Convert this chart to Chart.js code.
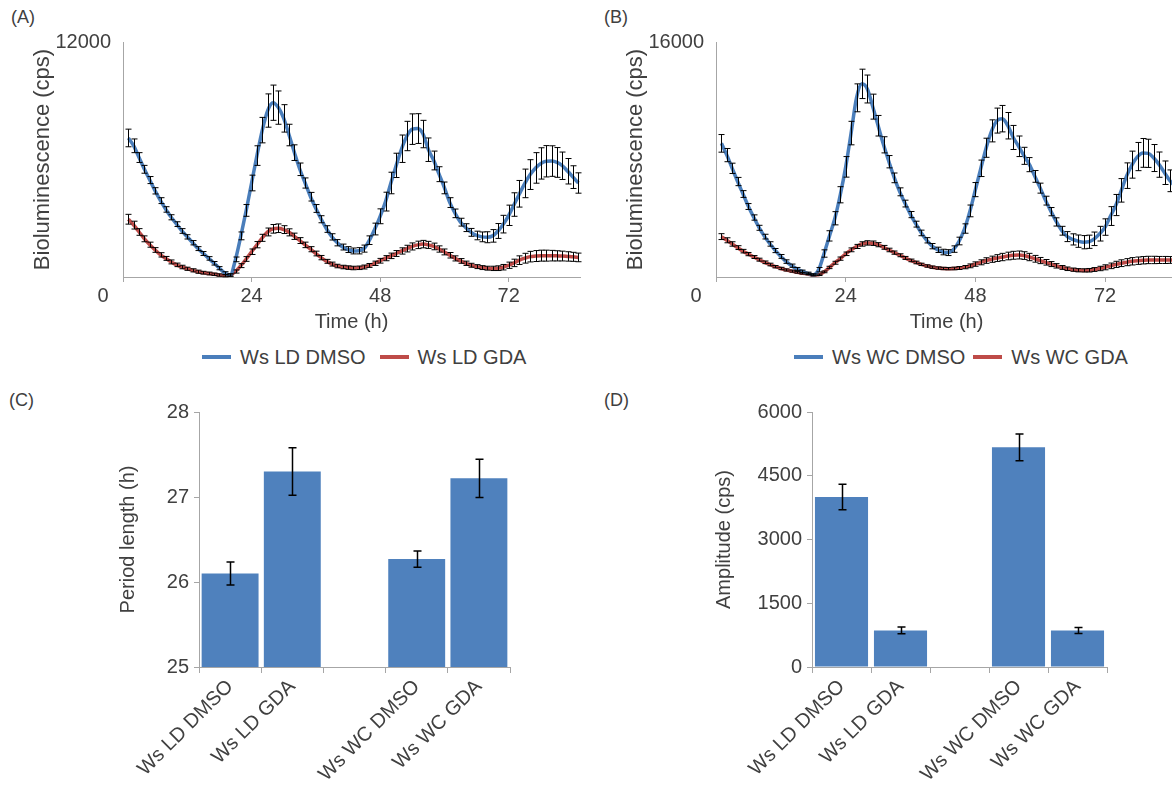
<!DOCTYPE html>
<html>
<head>
<meta charset="utf-8">
<title>Bioluminescence, period and amplitude</title>
<script src="https://cdn.jsdelivr.net/npm/chart.js@4.4.1/dist/chart.umd.min.js"></script>
<style>
  html, body { margin: 0; padding: 0; background: #fff; }
  body {
    width: 1172px; height: 789px; overflow: hidden; position: relative;
    font-family: "Liberation Sans", Arial, sans-serif; color: #404040;
  }
  .panel-label { position: absolute; font-size: 18px; line-height: 18px; }
  .box { position: absolute; }
  .legend { position: absolute; display: flex; align-items: center; font-size: 20px; line-height: 24px; white-space: nowrap; }
  .legend .item { display: flex; align-items: center; }
  .legend .swatch { display: inline-block; width: 29px; height: 4px; margin-right: 9px; }
</style>
</head>
<body>

<div class="panel-label" style="left:11px;top:8px">(A)</div>
<div class="panel-label" style="left:604px;top:8px">(B)</div>
<div class="panel-label" style="left:9px;top:391px">(C)</div>
<div class="panel-label" style="left:604px;top:391px">(D)</div>

<div class="box" style="left:0;top:0"><canvas id="chartA" width="590" height="336"></canvas></div>
<div class="box" style="left:590px;top:0"><canvas id="chartB" width="600" height="336"></canvas></div>
<div class="box" style="left:0;top:380px"><canvas id="chartC" width="590" height="409"></canvas></div>
<div class="box" style="left:590px;top:380px"><canvas id="chartD" width="590" height="409"></canvas></div>

<div class="legend" id="legendA" style="left:202px;top:345px"></div>
<div class="legend" id="legendB" style="left:794px;top:345px"></div>

<script>
// ===== Data =====
const hours = [1, 2, 3, 4, 5, 6, 7, 8, 9, 10, 11, 12, 13, 14, 15, 16, 17, 18, 19, 20,
  21, 22, 23, 24, 25, 26, 27, 28, 29, 30, 31, 32, 33, 34, 35, 36, 37, 38, 39, 40,
  41, 42, 43, 44, 45, 46, 47, 48, 49, 50, 51, 52, 53, 54, 55, 56, 57, 58, 59, 60,
  61, 62, 63, 64, 65, 66, 67, 68, 69, 70, 71, 72, 73, 74, 75, 76, 77, 78, 79, 80,
  81, 82, 83, 84, 85];

// (A) Ws LD
const ldDmso = [7100, 6700, 6100, 5500, 4950, 4400, 3900, 3450, 3050, 2700,
  2350, 2050, 1750, 1450, 1200, 950, 700, 450, 200, 100,
  900, 2100, 3400, 4800, 6200, 7500, 8500, 8900, 8650, 8100,
  7250, 6350, 5500, 4800, 4100, 3500, 2950, 2450, 2050, 1750,
  1530, 1400, 1330, 1340, 1450, 1880, 2450, 3100, 3850, 4800,
  5700, 6550, 7200, 7550, 7580, 7300, 6500, 5950, 5250, 4550,
  3800, 3250, 2800, 2520, 2280, 2120, 2050, 2030, 2100, 2350,
  2700, 3150, 3700, 4250, 4780, 5230, 5570, 5800, 5910, 5920,
  5850, 5680, 5400, 5100, 4800];
const ldDmsoErr = [450, 350, 250, 200, 180, 160, 150, 140, 130, 120,
  120, 110, 110, 100, 100, 90, 90, 80, 70, 60,
  120, 200, 300, 400, 500, 650, 850, 900, 850, 700,
  550, 400, 320, 260, 220, 200, 180, 170, 160, 160,
  150, 150, 150, 160, 180, 220, 300, 380, 480, 550,
  620, 700, 750, 780, 760, 700, 600, 480, 380, 300,
  250, 220, 200, 200, 200, 220, 250, 280, 320, 380,
  450, 520, 600, 680, 730, 760, 780, 800, 800, 780,
  760, 700, 650, 580, 520];
const ldGda = [2950, 2650, 2300, 1950, 1650, 1380, 1130, 950, 770, 620,
  510, 420, 340, 270, 220, 180, 140, 100, 60, 100,
  280, 580, 920, 1290, 1650, 2000, 2300, 2460, 2490, 2420,
  2280, 2080, 1860, 1640, 1420, 1200, 990, 800, 660, 560,
  510, 480, 460, 470, 510, 590, 700, 830, 960, 1080,
  1200, 1330, 1450, 1560, 1640, 1680, 1640, 1560, 1430, 1280,
  1110, 950, 820, 700, 600, 530, 480, 450, 440, 450,
  500, 600, 720, 860, 960, 1040, 1070, 1090, 1090, 1090,
  1080, 1070, 1050, 1030, 1000];
const ldGdaErr = [250, 200, 170, 150, 130, 120, 110, 100, 100, 90,
  90, 80, 80, 80, 70, 70, 60, 60, 50, 60,
  80, 100, 120, 140, 160, 180, 200, 220, 220, 200,
  180, 160, 150, 140, 130, 120, 110, 100, 100, 90,
  90, 90, 90, 90, 100, 100, 110, 120, 130, 140,
  150, 160, 170, 180, 190, 190, 180, 170, 160, 150,
  140, 130, 120, 110, 100, 100, 100, 100, 110, 120,
  140, 160, 190, 220, 250, 270, 280, 280, 280, 270,
  260, 250, 240, 230, 220];

// (B) Ws WC
const wcDmso = [9100, 8300, 7400, 6500, 5650, 4800, 4050, 3350, 2750, 2250,
  1800, 1400, 1050, 770, 550, 380, 250, 150, 500, 1600,
  2800, 4000, 5600, 7500, 9800, 12200, 13150, 12800, 11600, 10300,
  9000, 7850, 6750, 5800, 5000, 4250, 3600, 3000, 2500, 2100,
  1850, 1700, 1660, 1900, 2450, 3300, 4500, 5950, 7400, 8800,
  9950, 10650, 10780, 10300, 9500, 8900, 8250, 7650, 6850, 6050,
  5200, 4450, 3750, 3150, 2750, 2560, 2440, 2370, 2400, 2600,
  2950, 3400, 4150, 4900, 5900, 6900, 7650, 8200, 8450, 8420,
  8100, 7650, 7100, 6550, 6150];
const wcDmsoErr = [600, 450, 350, 280, 230, 200, 180, 170, 160, 150,
  140, 130, 120, 110, 100, 90, 80, 70, 150, 250,
  350, 450, 550, 700, 800, 950, 1000, 950, 850, 700,
  550, 420, 330, 270, 230, 210, 200, 190, 180, 180,
  180, 190, 200, 220, 260, 320, 400, 480, 560, 650,
  750, 850, 900, 900, 820, 700, 580, 480, 400, 340,
  300, 280, 280, 300, 340, 380, 420, 450, 450, 460,
  500, 560, 640, 720, 800, 870, 920, 960, 980, 960,
  920, 860, 800, 740, 700];
const wcGda = [2750, 2500, 2250, 2000, 1760, 1560, 1360, 1180, 1000, 850,
  700, 580, 480, 400, 320, 260, 200, 140, 150, 350,
  650, 970, 1250, 1580, 1850, 2080, 2250, 2320, 2300, 2200,
  2020, 1840, 1660, 1480, 1300, 1130, 990, 860, 750, 670,
  610, 580, 570, 580, 610, 670, 760, 880, 1000, 1120,
  1210, 1290, 1360, 1430, 1480, 1500, 1460, 1360, 1240, 1120,
  1000, 880, 760, 650, 560, 500, 460, 450, 460, 510,
  580, 660, 760, 860, 940, 1010, 1070, 1110, 1140, 1160,
  1160, 1160, 1160, 1160, 1160];
const wcGdaErr = [200, 170, 150, 130, 120, 110, 100, 100, 90, 90,
  80, 80, 70, 70, 60, 60, 50, 50, 50, 60,
  80, 100, 110, 120, 130, 140, 150, 150, 150, 140,
  130, 120, 110, 100, 100, 90, 90, 80, 80, 80,
  80, 80, 80, 90, 100, 110, 130, 150, 170, 190,
  210, 230, 250, 260, 270, 270, 260, 250, 230, 210,
  190, 170, 150, 130, 120, 110, 110, 110, 120, 130,
  150, 170, 190, 210, 230, 240, 250, 250, 250, 250,
  250, 240, 240, 230, 230];

const timeTicks = [0, 24, 48, 72];

// (C) and (D)
const groups = ["Ws LD DMSO", "Ws LD GDA", "", "Ws WC DMSO", "Ws WC GDA"];
const periodLength = [26.10, 27.30, null, 26.27, 27.22];
const periodErr = [0.135, 0.28, null, 0.095, 0.225];
const periodTicks = [25, 26, 27, 28];
const amplitude = [4000, 860, null, 5170, 860];
const amplitudeErr = [300, 80, null, 315, 70];
const amplitudeTicks = [0, 1500, 3000, 4500, 6000];

const BLUE = "#4A7EBB";
const RED = "#BE4B48";
const BAR = "#4F81BD";
const AXIS = "#a6a6a6";
const TEXT = "#404040";

Chart.defaults.font.family = "'Liberation Sans', Arial, sans-serif";
Chart.defaults.color = TEXT;
Chart.defaults.animation = false;

// ===== Error bars plugin =====
const errorBars = {
  id: "errorBars",
  afterDatasetsDraw(chart, args, opts) {
    const ctx = chart.ctx;
    const yScale = chart.scales.y;
    ctx.save();
    ctx.strokeStyle = opts.color || "#000";
    ctx.lineWidth = opts.width || 1;
    chart.data.datasets.forEach((ds, di) => {
      if (!ds.errors) return;
      const meta = chart.getDatasetMeta(di);
      meta.data.forEach((el, i) => {
        const raw = ds.data[i];
        const v = raw !== null && typeof raw === "object" ? raw.y : raw;
        const e = ds.errors[i];
        if (v == null || e == null) return;
        const x = Math.round(el.x) + 0.5;
        const top = yScale.getPixelForValue(v + e);
        const bot = yScale.getPixelForValue(v - e);
        const c = opts.cap || 3;
        ctx.beginPath();
        ctx.moveTo(x, top); ctx.lineTo(x, bot);
        ctx.moveTo(x - c, top); ctx.lineTo(x + c, top);
        ctx.moveTo(x - c, bot); ctx.lineTo(x + c, bot);
        ctx.stroke();
      });
    });
    ctx.restore();
  },
};

// ===== Time course charts =====
function points(values) {
  return hours.map((h, i) => ({ x: h, y: values[i] }));
}

function timeChart(id, cfg) {
  return new Chart(document.getElementById(id), {
    type: "line",
    data: {
      datasets: cfg.series.map((s) => ({
        label: s.label,
        data: points(s.values),
        errors: s.errors,
        borderColor: s.color,
        backgroundColor: s.color,
        borderWidth: 3.5,
        pointRadius: 0,
        cubicInterpolationMode: "monotone",
      })),
    },
    options: {
      responsive: false,
      layout: { padding: { top: 42, right: cfg.padRight, left: 0, bottom: 0 } },
      plugins: {
        legend: { display: false },
        tooltip: { enabled: false },
        errorBars: { color: "#000", width: 1, cap: 3 },
      },
      scales: {
        x: {
          type: "linear",
          min: 0,
          max: 85.3,
          afterBuildTicks: (s) => { s.ticks = timeTicks.map((v) => ({ value: v })); },
          ticks: {
            font: { size: 20 },
            padding: 2,
            maxRotation: 0,
            autoSkip: false,
            callback: (v) => (v === 0 ? "0\u2002\u2002\u2002\u2002" : String(v)),
          },
          grid: { drawOnChartArea: false, tickLength: 5, color: AXIS },
          border: { color: AXIS },
          title: { display: true, text: "Time (h)", font: { size: 20 }, padding: { top: 0, bottom: 2 } },
          afterFit: (s) => { s.height = 59; },
        },
        y: {
          min: 0,
          max: cfg.yMax,
          afterBuildTicks: (s) => { s.ticks = [{ value: cfg.yMax }]; },
          ticks: { font: { size: 20 }, padding: 12, callback: (v) => String(v) },
          grid: { display: false, drawTicks: false },
          border: { color: AXIS },
          title: {
            display: true, text: "Bioluminescence (cps)", font: { size: 22 },
            padding: { top: cfg.titlePad, bottom: 0 },
          },
          afterFit: (s) => { s.width = cfg.yWidth; },
        },
      },
    },
    plugins: [errorBars],
  });
}

// ===== Bar charts =====
function barChart(id, cfg) {
  return new Chart(document.getElementById(id), {
    type: "bar",
    data: {
      labels: groups,
      datasets: [{
        data: cfg.values,
        errors: cfg.errors,
        backgroundColor: BAR,
        borderWidth: 0,
        barPercentage: cfg.barPct,
        categoryPercentage: 1.0,
      }],
    },
    options: {
      responsive: false,
      layout: { padding: { top: 32, right: cfg.padRight, left: 0, bottom: 0 } },
      plugins: {
        legend: { display: false },
        tooltip: { enabled: false },
        errorBars: { color: "#000", width: 1.5, cap: 4 },
      },
      scales: {
        x: {
          ticks: { font: { size: 20 }, minRotation: 45, maxRotation: 45, autoSkip: false, padding: 2 },
          grid: { drawOnChartArea: false, tickLength: 6, color: AXIS, offset: true },
          border: { color: AXIS },
          afterFit: (s) => { s.height = 122; },
        },
        y: {
          min: cfg.ticks[0],
          max: cfg.ticks[cfg.ticks.length - 1],
          afterBuildTicks: (s) => { s.ticks = cfg.ticks.map((v) => ({ value: v })); },
          ticks: { font: { size: 20 }, padding: 5, callback: (v) => String(v) },
          grid: { drawOnChartArea: false, tickLength: 5, color: AXIS },
          border: { color: AXIS },
          title: {
            display: true, text: cfg.title, font: { size: 20 },
            padding: { top: cfg.titlePad, bottom: 0 },
          },
          afterFit: (s) => { s.width = cfg.yWidth; },
        },
      },
    },
    plugins: [errorBars],
  });
}

// ===== Legends =====
function buildLegend(elId, chart, gap) {
  const el = document.getElementById(elId);
  el.innerHTML = chart.data.datasets
    .map((ds, i) => `<span class="item" style="margin-right:${i ? 0 : gap}px">
        <span class="swatch" style="background:${ds.borderColor}"></span>${ds.label}</span>`)
    .join("");
}

const chartA = timeChart("chartA", {
  yMax: 12000, yWidth: 123, titlePad: 30, padRight: 10,
  series: [
    { label: "Ws LD DMSO", values: ldDmso, errors: ldDmsoErr, color: BLUE },
    { label: "Ws LD GDA", values: ldGda, errors: ldGdaErr, color: RED },
  ],
});
const chartB = timeChart("chartB", {
  yMax: 16000, yWidth: 126, titlePad: 33, padRight: 13,
  series: [
    { label: "Ws WC DMSO", values: wcDmso, errors: wcDmsoErr, color: BLUE },
    { label: "Ws WC GDA", values: wcGda, errors: wcGdaErr, color: RED },
  ],
});
barChart("chartC", {
  values: periodLength, errors: periodErr, ticks: periodTicks,
  title: "Period length (h)", yWidth: 199, titlePad: 116, padRight: 80, barPct: 0.915,
});
barChart("chartD", {
  values: amplitude, errors: amplitudeErr, ticks: amplitudeTicks,
  title: "Amplitude (cps)", yWidth: 222, titlePad: 122, padRight: 73, barPct: 0.9,
});

buildLegend("legendA", chartA, 14);
buildLegend("legendB", chartB, 8);
</script>
</body>
</html>
